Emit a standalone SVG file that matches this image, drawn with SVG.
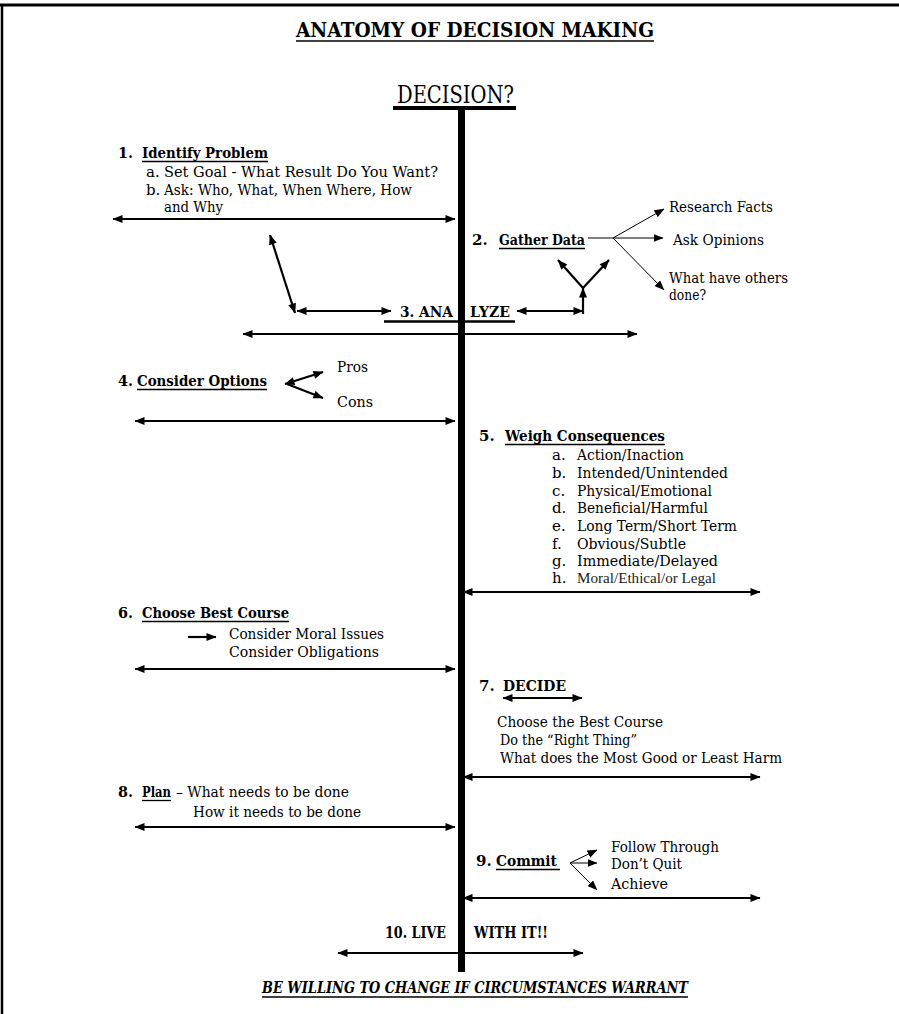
<svg xmlns="http://www.w3.org/2000/svg" width="899" height="1014" viewBox="0 0 899 1014">
  <style>
    .r { font-family: "DejaVu Serif", "Liberation Serif", serif; font-size: 15px; fill: #000; }
    .b { font-family: "DejaVu Serif", "Liberation Serif", serif; font-size: 15px; font-weight: bold; fill: #000; }
    .t { font-family: "Liberation Serif", "DejaVu Serif", serif; font-size: 15px; fill: #222; }
    .ul { stroke: #000; stroke-width: 1.3; }
    .thick { stroke: #000; stroke-width: 2.2; fill: none; }
    .thin { stroke: #000; stroke-width: 1; fill: none; }
  </style>
  <defs>
    <marker id="ah" viewBox="0 0 10 8" refX="9.5" refY="4" markerWidth="11" markerHeight="8" markerUnits="userSpaceOnUse" orient="auto-start-reverse">
      <path d="M0,0 L10,4 L0,8 z" fill="#000"/>
    </marker>
    <marker id="ahs" viewBox="0 0 10 8" refX="9.5" refY="4" markerWidth="10" markerHeight="8" markerUnits="userSpaceOnUse" orient="auto-start-reverse">
      <path d="M0,0 L10,4 L0,8 z" fill="#000"/>
    </marker>
  </defs>

  <rect width="899" height="1014" fill="#fff"/>
  <!-- frame -->
  <line x1="0" y1="5" x2="899" y2="5" stroke="#000" stroke-width="3"/>
  <line x1="2" y1="4" x2="2" y2="1014" stroke="#000" stroke-width="2.5"/>

  <!-- title -->
  <g id="title">
    <text class="b" x="296" y="37" style="font-size:21px" textLength="358" lengthAdjust="spacingAndGlyphs">ANATOMY OF DECISION MAKING</text>
    <line class="ul" x1="296" y1="41" x2="654" y2="41" stroke-width="1.6"/>
  </g>

  <!-- spine -->
  <g id="spine">
    <text class="r" x="397" y="103" style="font-size:25px" textLength="117" lengthAdjust="spacingAndGlyphs">DECISION?</text>
    <rect x="393" y="106" width="123" height="4" fill="#000"/>
    <rect x="458" y="107" width="7" height="865" fill="#000"/>
  </g>

  <g id="step1">
    <text class="b" x="118" y="158" textLength="15" lengthAdjust="spacingAndGlyphs">1.</text>
    <text class="b" x="142" y="158" textLength="126" lengthAdjust="spacingAndGlyphs">Identify Problem</text>
    <line class="ul" x1="142" y1="161.5" x2="268" y2="161.5"/>
    <text class="r" x="146" y="177">a.</text>
    <text class="r" x="164" y="177" textLength="274" lengthAdjust="spacingAndGlyphs">Set Goal - What Result Do You Want?</text>
    <text class="r" x="146" y="195">b.</text>
    <text class="r" x="164" y="195" textLength="248" lengthAdjust="spacingAndGlyphs">Ask: Who, What, When Where, How</text>
    <text class="r" x="164" y="212" textLength="59" lengthAdjust="spacingAndGlyphs">and Why</text>
  </g>

  <g id="step2">
    <text class="b" x="472" y="245">2.</text>
    <text class="b" x="499" y="245" textLength="86" lengthAdjust="spacingAndGlyphs">Gather Data</text>
    <line class="ul" x1="499" y1="248.5" x2="585" y2="248.5"/>
    <text class="r" x="669" y="212" textLength="104" lengthAdjust="spacingAndGlyphs">Research Facts</text>
    <text class="r" x="673" y="245" textLength="91" lengthAdjust="spacingAndGlyphs">Ask Opinions</text>
    <text class="r" x="669" y="283" textLength="119" lengthAdjust="spacingAndGlyphs">What have others</text>
    <text class="r" x="669" y="300" textLength="37" lengthAdjust="spacingAndGlyphs">done?</text>
  </g>

  <g id="step3">
    <text class="b" x="400" y="317" textLength="53" lengthAdjust="spacingAndGlyphs">3.  ANA</text>
    <text class="b" x="470" y="317" textLength="40" lengthAdjust="spacingAndGlyphs">LYZE</text>
    <line x1="384" y1="321.5" x2="515" y2="321.5" stroke="#000" stroke-width="2.5"/>
  </g>

  <g id="step4">
    <text class="b" x="118" y="386" textLength="15" lengthAdjust="spacingAndGlyphs">4.</text>
    <text class="b" x="137" y="386" textLength="130" lengthAdjust="spacingAndGlyphs">Consider Options</text>
    <line class="ul" x1="137" y1="389.5" x2="267" y2="389.5"/>
    <text class="r" x="337" y="372" textLength="31" lengthAdjust="spacingAndGlyphs">Pros</text>
    <text class="r" x="337" y="407" textLength="36" lengthAdjust="spacingAndGlyphs">Cons</text>
  </g>

  <g id="step5">
    <text class="b" x="479" y="441">5.</text>
    <text class="b" x="505" y="441" textLength="160" lengthAdjust="spacingAndGlyphs">Weigh Consequences</text>
    <line class="ul" x1="505" y1="444.5" x2="665" y2="444.5"/>
    <text class="r" x="552" y="460">a.</text>
    <text class="r" x="577" y="460" textLength="107" lengthAdjust="spacingAndGlyphs">Action/Inaction</text>
    <text class="r" x="552" y="478">b.</text>
    <text class="r" x="577" y="478" textLength="151" lengthAdjust="spacingAndGlyphs">Intended/Unintended</text>
    <text class="r" x="552" y="496">c.</text>
    <text class="r" x="577" y="496" textLength="135" lengthAdjust="spacingAndGlyphs">Physical/Emotional</text>
    <text class="r" x="552" y="513">d.</text>
    <text class="r" x="577" y="513" textLength="131" lengthAdjust="spacingAndGlyphs">Beneficial/Harmful</text>
    <text class="r" x="552" y="531">e.</text>
    <text class="r" x="577" y="531" textLength="160" lengthAdjust="spacingAndGlyphs">Long Term/Short Term</text>
    <text class="r" x="552" y="549">f.</text>
    <text class="r" x="577" y="549" textLength="109" lengthAdjust="spacingAndGlyphs">Obvious/Subtle</text>
    <text class="r" x="552" y="566">g.</text>
    <text class="r" x="577" y="566" textLength="141" lengthAdjust="spacingAndGlyphs">Immediate/Delayed</text>
    <text class="r" x="552" y="583">h.</text>
    <text class="t" x="577" y="583" textLength="139" lengthAdjust="spacingAndGlyphs">Moral/Ethical/or Legal</text>
  </g>

  <g id="step6">
    <text class="b" x="118" y="618" textLength="15" lengthAdjust="spacingAndGlyphs">6.</text>
    <text class="b" x="142" y="618" textLength="147" lengthAdjust="spacingAndGlyphs">Choose Best Course</text>
    <line class="ul" x1="142" y1="621.5" x2="289" y2="621.5"/>
    <text class="r" x="229" y="639" textLength="155" lengthAdjust="spacingAndGlyphs">Consider Moral Issues</text>
    <text class="r" x="229" y="657" textLength="150" lengthAdjust="spacingAndGlyphs">Consider Obligations</text>
  </g>

  <g id="step7">
    <text class="b" x="479" y="691">7.</text>
    <text class="b" x="503" y="691" textLength="63" lengthAdjust="spacingAndGlyphs">DECIDE</text>
    <text class="r" x="497" y="727" textLength="166" lengthAdjust="spacingAndGlyphs">Choose the Best Course</text>
    <text class="r" x="500" y="745" textLength="137" lengthAdjust="spacingAndGlyphs">Do the “Right Thing”</text>
    <text class="r" x="500" y="763" textLength="282" lengthAdjust="spacingAndGlyphs">What does the Most Good or Least Harm</text>
  </g>

  <g id="step8">
    <text class="b" x="118" y="797" textLength="15" lengthAdjust="spacingAndGlyphs">8.</text>
    <text class="b" x="142" y="797" textLength="29" lengthAdjust="spacingAndGlyphs">Plan</text>
    <line class="ul" x1="142" y1="800.5" x2="171" y2="800.5"/>
    <text class="r" x="176" y="797" textLength="173" lengthAdjust="spacingAndGlyphs">– What needs to be done</text>
    <text class="r" x="193" y="817" textLength="168" lengthAdjust="spacingAndGlyphs">How it needs to be done</text>
  </g>

  <g id="step9">
    <text class="b" x="476" y="866">9.</text>
    <text class="b" x="496" y="866" textLength="61" lengthAdjust="spacingAndGlyphs">Commit</text>
    <line class="ul" x1="496" y1="869.5" x2="560" y2="869.5"/>
    <text class="r" x="611" y="852" textLength="108" lengthAdjust="spacingAndGlyphs">Follow Through</text>
    <text class="r" x="611" y="869" textLength="71" lengthAdjust="spacingAndGlyphs">Don’t Quit</text>
    <text class="r" x="611" y="889" textLength="57" lengthAdjust="spacingAndGlyphs">Achieve</text>
  </g>

  <g id="step10">
    <text class="b" x="385" y="938" style="font-size:16px" textLength="61" lengthAdjust="spacingAndGlyphs">10. LIVE</text>
    <text class="b" x="474" y="938" style="font-size:16px" textLength="74" lengthAdjust="spacingAndGlyphs">WITH IT!!</text>
  </g>

  <g id="footer">
    <text class="b" x="262" y="993" style="font-size:16px;font-style:italic" textLength="426" lengthAdjust="spacingAndGlyphs">BE WILLING TO CHANGE IF CIRCUMSTANCES WARRANT</text>
    <line x1="262" y1="997" x2="688" y2="997" stroke="#000" stroke-width="1.6"/>
  </g>

  <g id="connectors">
    <!-- identify problem -->
    <line class="thick" x1="113" y1="219" x2="455" y2="219" marker-start="url(#ah)" marker-end="url(#ah)"/>
    <!-- link back from analyze to problem -->
    <line class="thick" x1="270" y1="235" x2="295" y2="313" marker-start="url(#ah)" marker-end="url(#ah)"/>
    <line class="thick" x1="297" y1="311" x2="391" y2="311" marker-start="url(#ah)" marker-end="url(#ah)"/>
    <!-- link from analyze to data -->
    <line class="thick" x1="517" y1="311" x2="583" y2="311" marker-start="url(#ah)" marker-end="url(#ah)"/>
    <line class="thick" x1="583" y1="314" x2="583" y2="288" marker-end="url(#ah)"/>
    <line class="thick" x1="583" y1="288" x2="558" y2="260" marker-end="url(#ah)"/>
    <line class="thick" x1="583" y1="288" x2="609" y2="260" marker-end="url(#ah)"/>
    <!-- gather data fan -->
    <line class="thin" x1="588" y1="238" x2="613" y2="238"/>
    <line class="thin" x1="613" y1="238" x2="664" y2="209" marker-end="url(#ahs)"/>
    <line class="thin" x1="613" y1="238" x2="663" y2="238" marker-end="url(#ahs)"/>
    <line class="thin" x1="613" y1="238" x2="664" y2="290" marker-end="url(#ahs)"/>
    <!-- analyze -->
    <line class="thick" x1="243" y1="334" x2="637" y2="334" marker-start="url(#ah)" marker-end="url(#ah)"/>
    <!-- pros / cons -->
    <line class="thick" x1="285" y1="384" x2="323" y2="372" marker-start="url(#ah)" marker-end="url(#ah)"/>
    <line class="thick" x1="287" y1="384" x2="323" y2="398" marker-end="url(#ah)"/>
    <line class="thick" x1="135" y1="421" x2="455" y2="421" marker-start="url(#ah)" marker-end="url(#ah)"/>
    <!-- weigh consequences -->
    <line class="thick" x1="463" y1="592" x2="760" y2="592" marker-start="url(#ah)" marker-end="url(#ah)"/>
    <!-- choose best course -->
    <line class="thick" x1="188" y1="637" x2="216" y2="637" marker-end="url(#ah)"/>
    <line class="thick" x1="135" y1="669" x2="455" y2="669" marker-start="url(#ah)" marker-end="url(#ah)"/>
    <!-- decide -->
    <line class="thick" x1="503" y1="698" x2="582" y2="698" marker-start="url(#ah)" marker-end="url(#ah)"/>
    <line class="thick" x1="463" y1="777" x2="760" y2="777" marker-start="url(#ah)" marker-end="url(#ah)"/>
    <!-- plan -->
    <line class="thick" x1="135" y1="827" x2="455" y2="827" marker-start="url(#ah)" marker-end="url(#ah)"/>
    <!-- commit fan -->
    <line class="thin" x1="570" y1="863" x2="597" y2="850" marker-end="url(#ahs)"/>
    <line class="thin" x1="570" y1="863" x2="597" y2="863" marker-end="url(#ahs)"/>
    <line class="thin" x1="570" y1="863" x2="597" y2="890" marker-end="url(#ahs)"/>
    <line class="thick" x1="463" y1="898" x2="760" y2="898" marker-start="url(#ah)" marker-end="url(#ah)"/>
    <!-- live with it -->
    <line class="thick" x1="338" y1="953" x2="583" y2="953" marker-start="url(#ah)" marker-end="url(#ah)"/>
  </g>
</svg>
